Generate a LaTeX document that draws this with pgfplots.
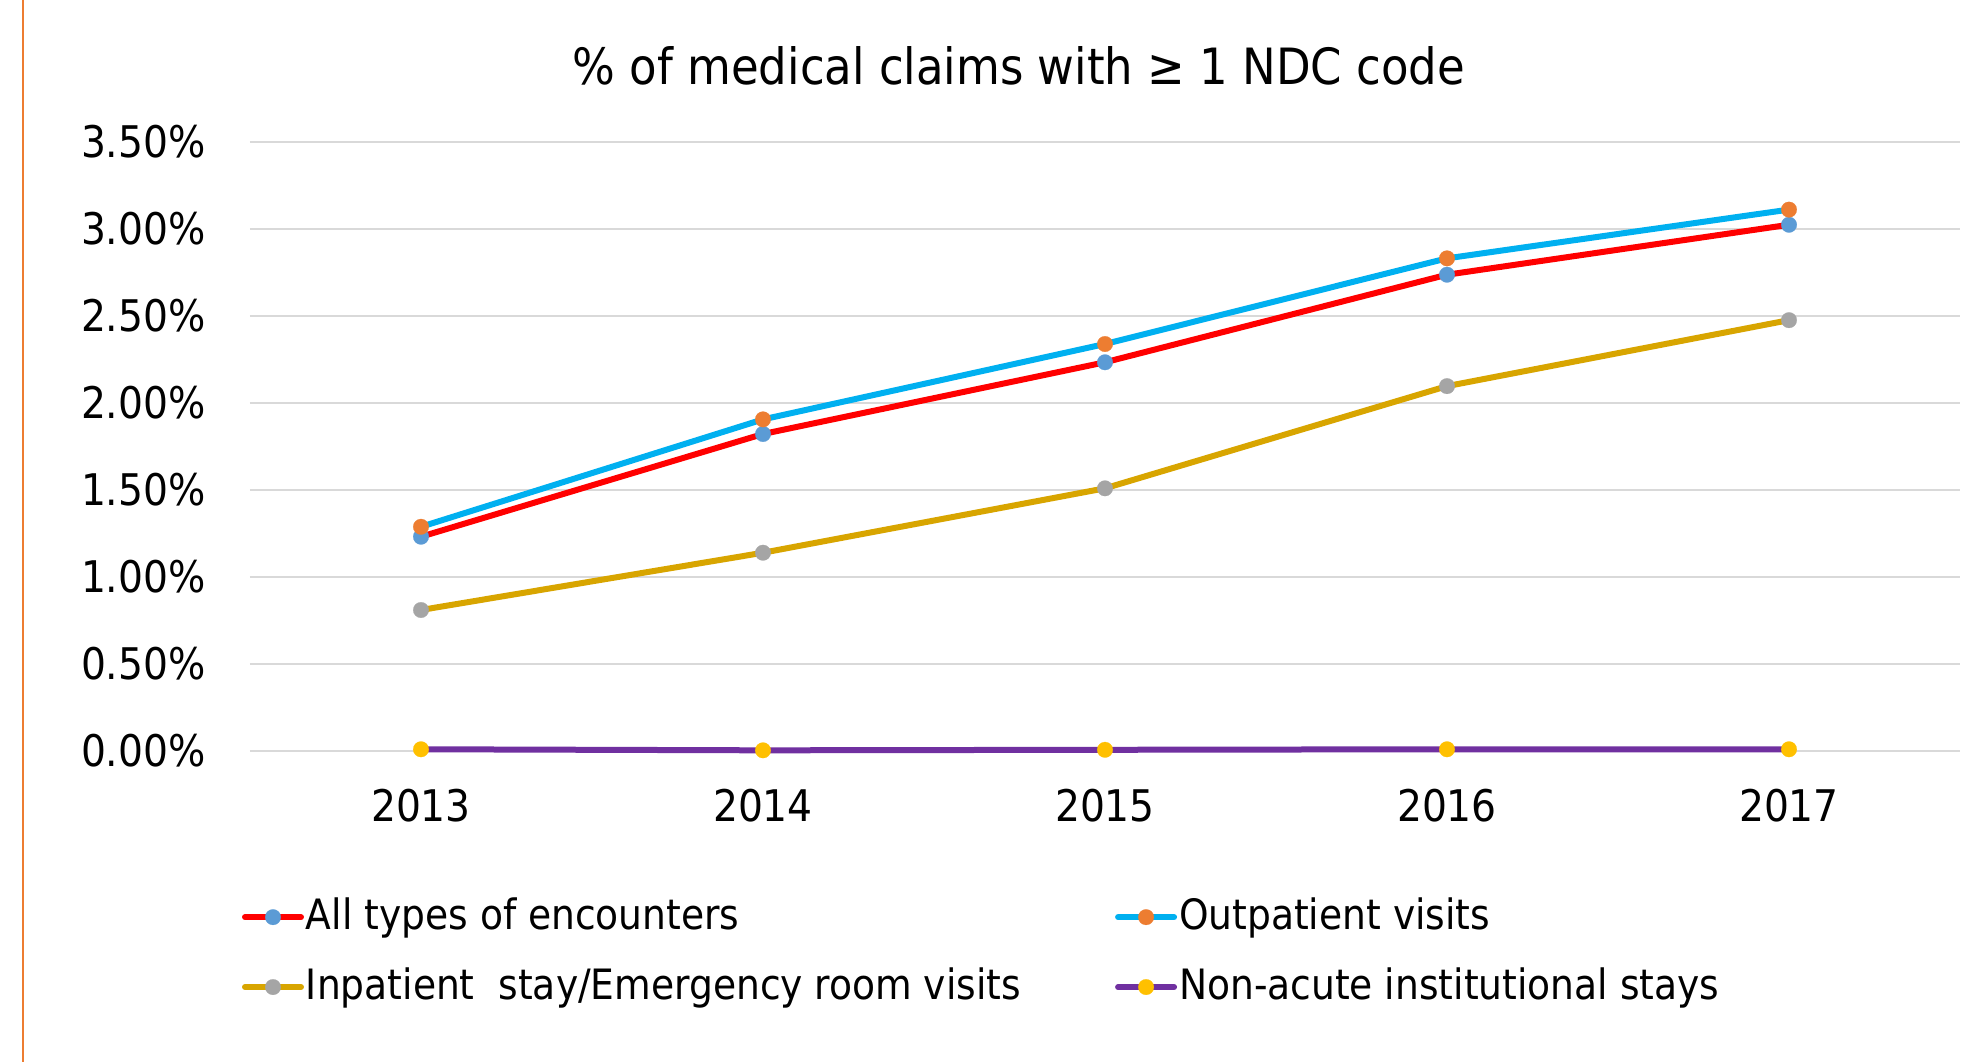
\documentclass[border=0pt]{standalone}
\usepackage{pgfplots}
\pgfplotsset{compat=1.18}
\usepackage{fontspec}
\setmainfont{DejaVu Sans Condensed}
\definecolor{cRed}{HTML}{FF0000}
\definecolor{cBlueMk}{HTML}{5B9BD5}
\definecolor{cCyan}{HTML}{00B0F0}
\definecolor{cOrangeMk}{HTML}{ED7D31}
\definecolor{cGold}{HTML}{D8A500}
\definecolor{cGrayMk}{HTML}{A5A5A5}
\definecolor{cPurple}{HTML}{7030A0}
\definecolor{cYellowMk}{HTML}{FFC000}
\definecolor{cGrid}{HTML}{D9D9D9}
\begin{document}
\fontsize{21.8pt}{26pt}\selectfont
\begin{tikzpicture}
\path[use as bounding box] (0,0) rectangle (991.5pt,-531pt);
\draw[cOrangeMk, line width=1.2pt] (11.5pt,0) -- (11.5pt,-531pt);
\node[anchor=base, font=\fontsize{25pt}{30pt}\selectfont, inner sep=0pt] at (509.5pt,-42.4pt) {\% of medical claims with ≥ 1 NDC code};
\begin{axis}[
  at={(125pt,-375.5pt)}, anchor=south west,
  scale only axis, width=855pt, height=304.65pt,
  xmin=-0.5, xmax=4.5, ymin=0, ymax=3.5,
  xtick={0,1,2,3,4}, xticklabels={2013,2014,2015,2016,2017},
  ytick={0,0.5,1,1.5,2,2.5,3,3.5},
  yticklabels={0.00\%,0.50\%,1.00\%,1.50\%,2.00\%,2.50\%,3.00\%,3.50\%},
  major tick length=0pt,
  axis line style={draw=none},
  ymajorgrids, major grid style={color=cGrid, line width=1pt},
  yticklabel style={anchor=east, inner sep=0pt, xshift=-22pt},
  xticklabel style={anchor=north, inner sep=0pt, yshift=-19pt},
  clip=false,
  legend columns=2,
  legend cell align=left,
  legend image code/.code={\draw[mark repeat=2,mark phase=2,line cap=round,#1] plot coordinates {(0pt,0pt) (14pt,0pt) (28pt,0pt)};},
  legend style={at={(axis description cs:0,0)}, anchor=north west, xshift=-4pt, yshift=-73.5pt,
    draw=none, fill=none, inner sep=0pt, outer sep=0pt,
    font=\fontsize{20.9pt}{25pt}\selectfont,
    nodes={inner sep=0pt},
    row sep=15.8pt,
    /tikz/every odd column/.append style={column sep=1pt},
    /tikz/every even column/.append style={column sep=47pt}},
]
\addplot[color=cRed, line width=3pt, mark=*, mark size=3.9pt, mark options={fill=cBlueMk, draw=cBlueMk, line width=0.1pt}]
  coordinates {(0,1.231) (1,1.821) (2,2.233) (3,2.736) (4,3.023)};
\addlegendentry{All types of encounters}
\addplot[color=cCyan, line width=3pt, mark=*, mark size=3.9pt, mark options={fill=cOrangeMk, draw=cOrangeMk, line width=0.1pt}]
  coordinates {(0,1.288) (1,1.905) (2,2.338) (3,2.830) (4,3.110)};
\addlegendentry{Outpatient visits}
\addplot[color=cGold, line width=3pt, mark=*, mark size=3.9pt, mark options={fill=cGrayMk, draw=cGrayMk, line width=0.1pt}]
  coordinates {(0,0.810) (1,1.139) (2,1.509) (3,2.096) (4,2.475)};
\addlegendentry{Inpatient\ \ stay/Emergency room visits}
\addplot[color=cPurple, line width=3pt, mark=*, mark size=3.9pt, mark options={fill=cYellowMk, draw=cYellowMk, line width=0.1pt}]
  coordinates {(0,0.010) (1,0.004) (2,0.007) (3,0.010) (4,0.010)};
\addlegendentry{Non-acute institutional stays}
\end{axis}
\end{tikzpicture}
\end{document}
